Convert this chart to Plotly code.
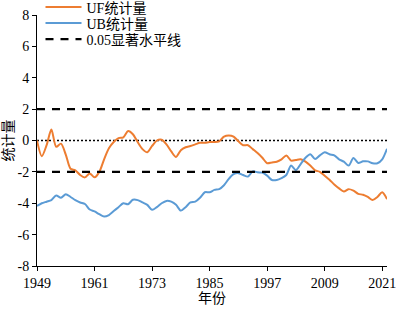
import plotly.graph_objects as go

years = list(range(1949, 2023))

uf_values = [
    0.0, -1.0, -0.3, 0.7, -0.4, -0.2, -0.9, -1.8, -1.9, -2.2,
    -2.35, -2.1, -2.35, -2.0, -1.2, -0.5, -0.1, 0.15, 0.2, 0.6,
    0.4, -0.1, -0.55, -0.75, -0.35, 0.0, 0.05, -0.25, -0.7, -1.05,
    -0.62, -0.43, -0.35, -0.25, -0.15, -0.15, -0.1, -0.1, -0.05, 0.25,
    0.32, 0.25, -0.05, -0.3, -0.3, -0.55, -0.8, -1.1, -1.45, -1.4,
    -1.35, -1.2, -0.95, -1.28, -1.24, -1.2, -1.35, -1.6, -1.9, -2.0,
    -2.25, -2.5, -2.8, -3.05, -3.25, -3.1, -3.2, -3.4, -3.46, -3.6,
    -3.8, -3.6, -3.3, -3.74,
]

ub_values = [
    -4.17, -4.0, -3.9, -3.8, -3.5, -3.65, -3.42, -3.6, -3.8, -3.95,
    -4.05, -4.4, -4.52, -4.7, -4.85, -4.75, -4.5, -4.25, -4.0, -4.06,
    -3.78, -3.8, -3.95, -4.1, -4.42, -4.25, -4.0, -3.85, -3.9, -4.1,
    -4.47, -4.25, -3.95, -3.9, -3.65, -3.3, -3.3, -3.15, -3.1, -2.85,
    -2.45, -2.15, -2.08, -2.2, -2.3, -1.97, -2.03, -2.05, -2.24, -2.52,
    -2.52, -2.4, -2.2, -1.6, -1.88, -1.5, -1.1, -0.88, -1.18, -0.95,
    -0.75, -0.88, -0.95, -1.2, -1.35, -1.6, -1.12, -1.43, -1.33, -1.33,
    -1.45, -1.45, -1.2, -0.53,
]

sig_level = 2.0
x_ticks = [1949, 1961, 1973, 1985, 1997, 2009, 2021]
y_ticks = [8, 6, 4, 2, 0, -2, -4, -6, -8]
y_tick_text = [str(v) for v in y_ticks]

series_names = ["UF统计量", "UB统计量", "0.05显著水平线"]
x_title = "年份"
y_title = "统计量"

FONT = "'Liberation Serif', 'Times New Roman', 'Noto Sans CJK SC', serif"

fig = go.Figure()

# zero reference (dotted)
fig.add_trace(go.Scatter(
    x=[years[0], years[-1]], y=[0, 0], mode="lines",
    line=dict(color="black", width=1.6, dash="2px,2px"),
    showlegend=False, hoverinfo="skip"))

fig.add_trace(go.Scatter(
    x=years, y=uf_values, mode="lines", name=series_names[0],
    legend="legend",
    line=dict(color="#ED7D31", width=2, shape="spline", smoothing=0.8)))

fig.add_trace(go.Scatter(
    x=years, y=ub_values, mode="lines", name=series_names[1],
    legend="legend2",
    line=dict(color="#5B9BD5", width=2, shape="spline", smoothing=0.8)))

fig.add_trace(go.Scatter(
    x=[years[0], years[-1]], y=[sig_level, sig_level], mode="lines",
    name=series_names[2], legend="legend3",
    line=dict(color="black", width=2.2, dash="8px,7px")))

fig.add_trace(go.Scatter(
    x=[years[0], years[-1]], y=[-sig_level, -sig_level], mode="lines",
    showlegend=False,
    line=dict(color="black", width=2.2, dash="8px,7px")))

H = 309.0


def legend_at(px):
    return dict(
        xref="paper", yref="container",
        x=0.01, y=1 - px / H, xanchor="left", yanchor="middle",
        bgcolor="rgba(0,0,0,0)", font=dict(family=FONT, size=14),
        itemwidth=36, borderwidth=0,
    )


fig.update_layout(
    width=396, height=309,
    margin=dict(l=37, r=9, t=15, b=43, autoexpand=False),
    paper_bgcolor="white", plot_bgcolor="white",
    font=dict(family=FONT, size=14, color="black"),
    showlegend=True,
    legend=legend_at(7.5),
    legend2=legend_at(23.5),
    legend3=legend_at(39.5),
    xaxis=dict(
        range=[years[0], years[-1]], tickvals=x_ticks,
        showgrid=False, zeroline=False, automargin=False,
        showline=True, linecolor="black", linewidth=1,
        ticks="outside", ticklen=4, tickcolor="black",
        ticklabeloverflow="allow",
        tickfont=dict(family=FONT, size=14),
        title=dict(text=x_title, font=dict(family=FONT, size=14), standoff=0),
    ),
    yaxis=dict(
        range=[-8, 8], tickvals=y_ticks, ticktext=y_tick_text,
        showgrid=False, zeroline=False, automargin=False,
        showline=True, linecolor="black", linewidth=1,
        ticks="outside", ticklen=4, tickcolor="black",
        tickfont=dict(family=FONT, size=14),
        title=dict(text=y_title, font=dict(family=FONT, size=14), standoff=0),
    ),
)

fig.write_html(
    "out.html",
    config={"displayModeBar": False},
    post_script="document.body.style.margin='0';document.body.style.padding='0';",
)
